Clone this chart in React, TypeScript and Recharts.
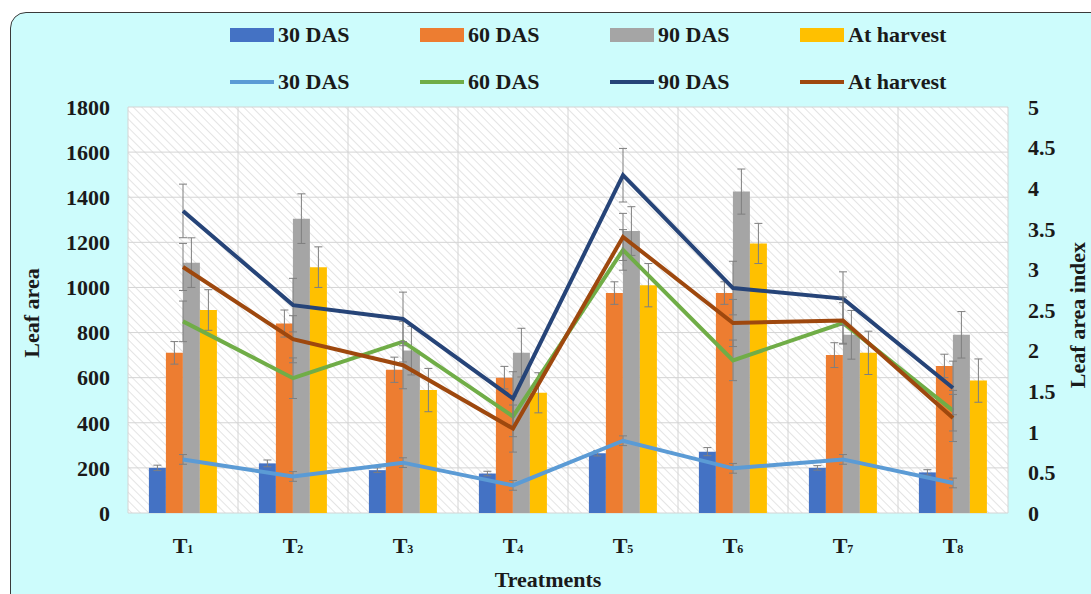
import { ComposedChart, Bar, Line, XAxis, YAxis, CartesianGrid, ErrorBar } from "recharts"

const treatments = ["T1", "T2", "T3", "T4", "T5", "T6", "T7", "T8"]

// leaf area (bars, left axis)
const area30 = [200, 220, 190, 175, 265, 272, 200, 180]
const area60 = [710, 840, 635, 600, 975, 975, 700, 652]
const area90 = [1110, 1305, 720, 711, 1250, 1425, 790, 790]
const areaHarvest = [900, 1090, 545, 533, 1010, 1195, 710, 587]

const area30Err = [12, 15, 10, 10, 12, 18, 10, 12]
const area60Err = [50, 60, 56, 50, 50, 50, 55, 52]
const area90Err = [110, 110, 108, 108, 108, 100, 108, 103]
const areaHarvestErr = [90, 90, 96, 89, 96, 89, 96, 96]

// leaf area index (lines, right axis)
const lai30 = [0.66, 0.45, 0.62, 0.34, 0.89, 0.55, 0.66, 0.37]
const lai60 = [2.36, 1.66, 2.11, 1.19, 3.24, 1.88, 2.34, 1.26]
const lai90 = [3.72, 2.56, 2.39, 1.41, 4.16, 2.77, 2.64, 1.54]
const laiHarvest = [3.03, 2.14, 1.82, 1.04, 3.4, 2.34, 2.37, 1.17]

const lai30Err = [0.06, 0.06, 0.06, 0.06, 0.06, 0.06, 0.06, 0.06]
const lai60Err = [0.25, 0.25, 0.25, 0.25, 0.25, 0.25, 0.25, 0.25]
const lai90Err = [0.33, 0.33, 0.33, 0.33, 0.33, 0.33, 0.33, 0.33]
const laiHarvestErr = [0.29, 0.29, 0.29, 0.29, 0.29, 0.29, 0.29, 0.29]

const leftTicks = [0, 200, 400, 600, 800, 1000, 1200, 1400, 1600, 1800]
const rightTicks = [0, 0.5, 1, 1.5, 2, 2.5, 3, 3.5, 4, 4.5, 5]
const boundaryTicks = [0, 1, 2, 3, 4, 5, 6, 7, 8]

const barLegend = [
  { name: "30 DAS", color: "#4472C4" },
  { name: "60 DAS", color: "#ED7D31" },
  { name: "90 DAS", color: "#A5A5A5" },
  { name: "At harvest", color: "#FFC000" },
]
const lineLegend = [
  { name: "30 DAS", color: "#5B9BD5" },
  { name: "60 DAS", color: "#70AD47" },
  { name: "90 DAS", color: "#264478" },
  { name: "At harvest", color: "#9E480E" },
]

const FONT = "'Liberation Serif', 'Times New Roman', serif"
const TEXT = "#1a1a1a"
const ERR = "#7f7f7f"

const data = treatments.map((t, i) => ({
  name: t,
  idx: i + 0.5,
  a30: area30[i],
  a60: area60[i],
  a90: area90[i],
  aH: areaHarvest[i],
  a30e: area30Err[i],
  a60e: area60Err[i],
  a90e: area90Err[i],
  aHe: areaHarvestErr[i],
  l30: lai30[i],
  l60: lai60[i],
  l90: lai90[i],
  lH: laiHarvest[i],
  l30e: lai30Err[i],
  l60e: lai60Err[i],
  l90e: lai90Err[i],
  lHe: laiHarvestErr[i],
}))

function TreatmentTick({ x, y, payload }: any) {
  const label = String(payload.value)
  return (
    <text x={x} y={y} dy={18} textAnchor="middle" fontFamily={FONT} fontWeight="bold" fontSize={22} fill={TEXT}>
      {label[0]}
      <tspan fontSize={12}>{label.slice(1)}</tspan>
    </text>
  )
}

const legendText = { fontFamily: FONT, fontWeight: "bold" as const, fontSize: 22, color: TEXT }

export default function App() {
  return (
    <div style={{ position: "absolute", left: 0, top: 0, width: 1091, height: 594, background: "#fff", overflow: "hidden" }}>
      <div
        style={{
          position: "absolute",
          left: 10,
          top: 12,
          width: 1110,
          height: 620,
          border: "1.5px solid #3a3a3a",
          borderRadius: 16,
          background: "#cdfcfc",
        }}
      />

      {/* legend rows */}
      {[barLegend, lineLegend].map((row, r) => (
        <div key={r} style={{ position: "absolute", left: 230, top: r === 0 ? 22 : 69, height: 26 }}>
          {row.map((item, i) => (
            <div
              key={item.name + r}
              style={{ position: "absolute", left: i * 190, top: 0, display: "flex", alignItems: "center", height: 26, whiteSpace: "nowrap" }}
            >
              <div style={{ width: 44, height: r === 0 ? 14 : 4, background: item.color, marginRight: 4 }} />
              <span style={legendText}>{item.name}</span>
            </div>
          ))}
        </div>
      ))}

      <div style={{ position: "absolute", left: 0, top: 0 }}>
        <ComposedChart
          width={1091}
          height={594}
          data={data}
          margin={{ top: 107, right: 23, bottom: 1, left: 68 }}
          barCategoryGap="19%"
          barGap={0}
        >
          <defs>
            <pattern id="hatch" patternUnits="userSpaceOnUse" width="6" height="6" patternTransform="rotate(-45)">
              <rect width="6" height="6" fill="#ffffff" />
              <line x1="0" y1="0" x2="0" y2="6" stroke="#dedede" strokeWidth="1.6" />
            </pattern>
          </defs>
          <XAxis xAxisId="grid" type="number" dataKey="idx" domain={[0, 8]} ticks={boundaryTicks} hide />
          <CartesianGrid xAxisId="grid" yAxisId="left" fill="url(#hatch)" stroke="#d4d4d4" strokeWidth={1} />
          <XAxis
            dataKey="name"
            height={80}
            axisLine={false}
            tickLine={false}
            tickSize={0}
            tickMargin={22}
            tick={<TreatmentTick />}
            interval={0}
            label={{
              value: "Treatments",
              position: "insideBottom",
              offset: 6,
              dx: -20,
              style: { fontFamily: FONT, fontWeight: "bold", fontSize: 22, fill: TEXT },
            }}
          />
          <YAxis
            yAxisId="left"
            width={60}
            domain={[0, 1800]}
            ticks={leftTicks}
            axisLine={false}
            tickLine={false}
            tickSize={0}
            tickMargin={18}
            tick={{ fontFamily: FONT, fontWeight: "bold", fontSize: 22, fill: TEXT }}
          />
          <YAxis
            yAxisId="right"
            orientation="right"
            width={60}
            domain={[0, 5]}
            ticks={rightTicks}
            axisLine={false}
            tickLine={false}
            tickSize={0}
            tickMargin={20}
            tick={{ fontFamily: FONT, fontWeight: "bold", fontSize: 22, fill: TEXT }}
          />

          <Bar yAxisId="left" dataKey="a30" fill={barLegend[0].color} isAnimationActive={false}>
            <ErrorBar dataKey="a30e" stroke={ERR} strokeWidth={1} width={4} />
          </Bar>
          <Bar yAxisId="left" dataKey="a60" fill={barLegend[1].color} isAnimationActive={false}>
            <ErrorBar dataKey="a60e" stroke={ERR} strokeWidth={1} width={4} />
          </Bar>
          <Bar yAxisId="left" dataKey="a90" fill={barLegend[2].color} isAnimationActive={false}>
            <ErrorBar dataKey="a90e" stroke={ERR} strokeWidth={1} width={4} />
          </Bar>
          <Bar yAxisId="left" dataKey="aH" fill={barLegend[3].color} isAnimationActive={false}>
            <ErrorBar dataKey="aHe" stroke={ERR} strokeWidth={1} width={4} />
          </Bar>

          <Line yAxisId="right" dataKey="l30" stroke={lineLegend[0].color} strokeWidth={4} dot={false} isAnimationActive={false}>
            <ErrorBar dataKey="l30e" stroke={ERR} strokeWidth={1} width={4} />
          </Line>
          <Line yAxisId="right" dataKey="l60" stroke={lineLegend[1].color} strokeWidth={4} dot={false} isAnimationActive={false}>
            <ErrorBar dataKey="l60e" stroke={ERR} strokeWidth={1} width={4} />
          </Line>
          <Line yAxisId="right" dataKey="l90" stroke={lineLegend[2].color} strokeWidth={4} dot={false} isAnimationActive={false}>
            <ErrorBar dataKey="l90e" stroke={ERR} strokeWidth={1} width={4} />
          </Line>
          <Line yAxisId="right" dataKey="lH" stroke={lineLegend[3].color} strokeWidth={4} dot={false} isAnimationActive={false}>
            <ErrorBar dataKey="lHe" stroke={ERR} strokeWidth={1} width={4} />
          </Line>
        </ComposedChart>
      </div>

      <div
        style={{
          position: "absolute",
          left: 32,
          top: 313,
          transform: "translate(-50%, -50%) rotate(-90deg)",
          whiteSpace: "nowrap",
          ...legendText,
        }}
      >
        Leaf area
      </div>
      <div
        style={{
          position: "absolute",
          left: 1078,
          top: 315,
          transform: "translate(-50%, -50%) rotate(-90deg)",
          whiteSpace: "nowrap",
          ...legendText,
        }}
      >
        Leaf area index
      </div>
    </div>
  )
}
